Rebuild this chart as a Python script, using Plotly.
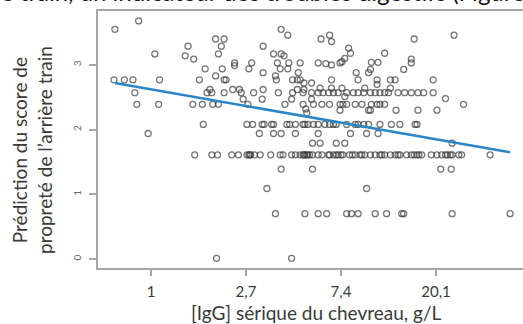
import plotly.graph_objects as go

# Scattered points: (ln of serum IgG, predicted hindquarter cleanliness score)
upper_pts = [
    (-0.38, 3.55), (-0.13, 3.68), (0.04, 3.17), (0.39, 3.29), (0.36, 3.14), (0.45, 3.09),
    (0.68, 3.40), (0.77, 3.40), (0.74, 3.29), (0.71, 3.17), (0.57, 2.94), (0.75, 2.94),
    (0.68, 2.83), (0.51, 2.77), (0.77, 2.77), (0.79, 2.77), (0.88, 3.03), (0.88, 2.99),
    (1.06, 3.03), (1.03, 2.94), (1.18, 3.29), (1.18, 2.88), (1.37, 3.55), (1.44, 3.46),
    (1.29, 3.17), (1.37, 3.17), (1.40, 3.14), (1.33, 3.03), (1.45, 3.03), (1.57, 3.03),
    (1.36, 2.94), (1.44, 2.94), (1.31, 2.83), (1.32, 2.77), (1.55, 2.88), (1.49, 2.77),
    (1.54, 2.77), (1.57, 2.77), (1.61, 2.72), (1.69, 2.72), (1.76, 3.03),
    (-0.39, 2.77), (-0.28, 2.77), (-0.19, 2.77), (0.09, 2.77), (-0.17, 2.57),
    (-0.15, 2.39), (0.08, 2.39), (-0.03, 1.94),
    (3.19, 3.46), (2.77, 3.40), (1.88, 3.46), (1.90, 3.36), (1.79, 3.40), (2.08, 3.26),
    (2.10, 3.18), (2.46, 3.18), (2.04, 3.10), (2.01, 3.05), (2.32, 3.04), (2.39, 3.04),
    (2.74, 3.09), (2.74, 3.03), (1.84, 3.02), (1.90, 3.00), (1.99, 3.03), (2.66, 2.93),
    (2.31, 2.93), (2.29, 2.88), (2.16, 2.88), (1.90, 2.77), (2.18, 2.77), (2.38, 2.77),
    (2.38, 2.70), (2.52, 2.77), (2.57, 2.77), (2.97, 2.77),
    (1.78, 2.64), (1.90, 2.64), (2.01, 2.64), (2.25, 2.64), (2.52, 2.64),
    (0.62, 2.62), (0.86, 2.62), (0.93, 2.62), (1.18, 2.62), (1.54, 2.62), (1.61, 2.62),
    (0.97, 2.47), (1.17, 2.47), (1.48, 2.47), (1.69, 2.47), (2.04, 2.51), (3.10, 2.48),
    (1.63, 2.32), (1.64, 2.26),
]

# Horizontal bands of points (one score level each)
row_257 = [0.59, 0.64, 0.77, 0.95, 1.08, 1.34, 1.49, 1.60, 1.69, 1.76, 1.81, 1.87, 1.92,
           1.97, 2.06, 2.13, 2.18, 2.24, 2.31, 2.36, 2.41, 2.46, 2.50, 2.60, 2.67, 2.74,
           2.81, 2.87, 2.97]
row_239 = [0.44, 0.54, 0.65, 0.71, 1.02, 1.41, 1.60, 1.71, 1.80, 1.88, 1.99, 2.02, 2.06,
           2.15, 2.22, 2.32, 2.38, 2.41, 2.46, 3.29]
row_230 = [1.99, 2.29, 2.31, 2.58, 2.81, 3.01]
row_208 = [0.55, 1.01, 1.07, 1.17, 1.19, 1.27, 1.29, 1.43, 1.46, 1.52, 1.60, 1.62, 1.65,
           1.71, 1.76, 1.83, 1.88, 1.92, 1.95, 2.06, 2.15, 2.18, 2.24, 2.29, 2.41, 2.53,
           2.62, 2.78, 2.80]
row_194 = [1.14, 1.29, 1.37, 1.52, 1.76, 2.10, 2.27, 2.39]
row_179 = [1.70, 1.78, 1.95, 2.04, 3.17]
row_161 = [0.46, 0.64, 0.70, 0.85, 0.92, 1.01, 1.03, 1.04, 1.05, 1.09, 1.15, 1.26, 1.36,
           1.39, 1.48, 1.52, 1.57, 1.60, 1.61, 1.62, 1.64, 1.65, 1.67, 1.70, 1.76, 1.80,
           1.87, 1.88, 1.92, 1.95, 1.97, 2.00, 2.02, 2.09, 2.12, 2.15, 2.20, 2.22, 2.25,
           2.31, 2.36, 2.41, 2.43, 2.46, 2.52, 2.57, 2.60, 2.62, 2.69, 2.74, 2.77, 2.80,
           2.82, 2.85, 2.95, 3.01, 3.06, 3.10, 3.12, 3.15, 3.17, 3.24, 3.27, 3.57]
row_139 = [1.37, 1.70, 3.05, 3.16]
row_109 = [1.22, 2.27]
row_070 = [1.31, 1.62, 1.76, 1.85, 2.06, 2.11, 2.18, 2.36, 2.48, 2.64, 2.66, 3.17, 3.78]
row_001 = [0.69, 1.48]

band_levels = [2.57, 2.39, 2.30, 2.08, 1.94, 1.79, 1.61, 1.39, 1.09, 0.70, 0.01]
band_rows = [row_257, row_239, row_230, row_208, row_194, row_179, row_161, row_139,
             row_109, row_070, row_001]

# Fitted regression line (end points)
fit_ln_igg = [-0.38, 3.78]
fit_score = [2.72, 1.65]

# Axis ticks (x axis is ln scale; labels are the IgG values)
x_tick_vals = [0, 1, 2, 3]
x_tick_text = ["1", "2,7", "7,4", "20,1"]
y_tick_vals = [0, 1, 2, 3]

xs = [p[0] for p in upper_pts]
ys = [p[1] for p in upper_pts]
for lvl, row in zip(band_levels, band_rows):
    xs += row
    ys += [lvl] * len(row)

FONT = "Lato"
W, H = 523, 324
L, T, B, R = 98, 11, 56, 0
pw, ph = W - L - R, H - T - B

def px_x(p):
    return (p - L) / pw

def px_y(p):
    return (H - B - p) / ph

fig = go.Figure()
fig.add_trace(go.Scatter(
    x=xs, y=ys, mode="markers",
    marker=dict(symbol="circle-open", size=6, color="rgba(60,60,60,0.7)",
                line=dict(width=1.3, color="rgba(60,60,60,0.7)")),
    showlegend=False, hoverinfo="skip"))
fig.add_trace(go.Scatter(
    x=fit_ln_igg, y=fit_score, mode="lines",
    line=dict(color="#2b86c8", width=2.6), showlegend=False))

fig.update_layout(
    width=W, height=H,
    margin=dict(l=L, r=R, t=T, b=B),
    paper_bgcolor="white", plot_bgcolor="white",
    font=dict(family=FONT, color="#3a3a3a"),
    xaxis=dict(range=[-0.558, 3.916], showgrid=False, zeroline=False,
               showline=True, linecolor="#a6a6a6", linewidth=1.5, mirror=True,
               ticks="outside", ticklen=6, tickwidth=1.5, tickcolor="#a6a6a6",
               tickvals=x_tick_vals, ticktext=x_tick_text,
               tickfont=dict(family=FONT, size=15, color="#3a3a3a"),
               ticklabelstandoff=3),
    yaxis=dict(range=[-0.139, 3.833], showgrid=False, zeroline=False,
               showline=True, linecolor="#a6a6a6", linewidth=1.5, mirror=False,
               ticks="outside", ticklen=7, tickwidth=1.5, tickcolor="#a6a6a6",
               tickvals=y_tick_vals, tickangle=-90,
               tickfont=dict(family=FONT, size=10, color="#666666"),
               ticklabelstandoff=4),
    annotations=[
        dict(text="[IgG] sérique du chevreau, g/L", xref="paper", yref="paper",
             x=px_x(316), y=px_y(312), xanchor="center", yanchor="middle",
             showarrow=False, font=dict(family=FONT, size=19, color="#3a3a3a")),
        dict(text="Prédiction du score de<br>propreté de l’arrière train",
             xref="paper", yref="paper", x=px_x(32), y=px_y(150),
             xanchor="center", yanchor="middle", textangle=-90,
             showarrow=False, font=dict(family=FONT, size=19, color="#3a3a3a")),
        dict(text="e train, un indicateur des troubles digestifs (Figure 3).",
             xref="paper", yref="paper", x=px_x(-1), y=px_y(8),
             xanchor="left", yanchor="bottom", showarrow=False,
             font=dict(family=FONT, size=24, color="#111111")),
    ],
)

fig.write_html("out.html", config={"displayModeBar": False},
               post_script="document.body.style.margin='0';document.body.style.padding='0';")
